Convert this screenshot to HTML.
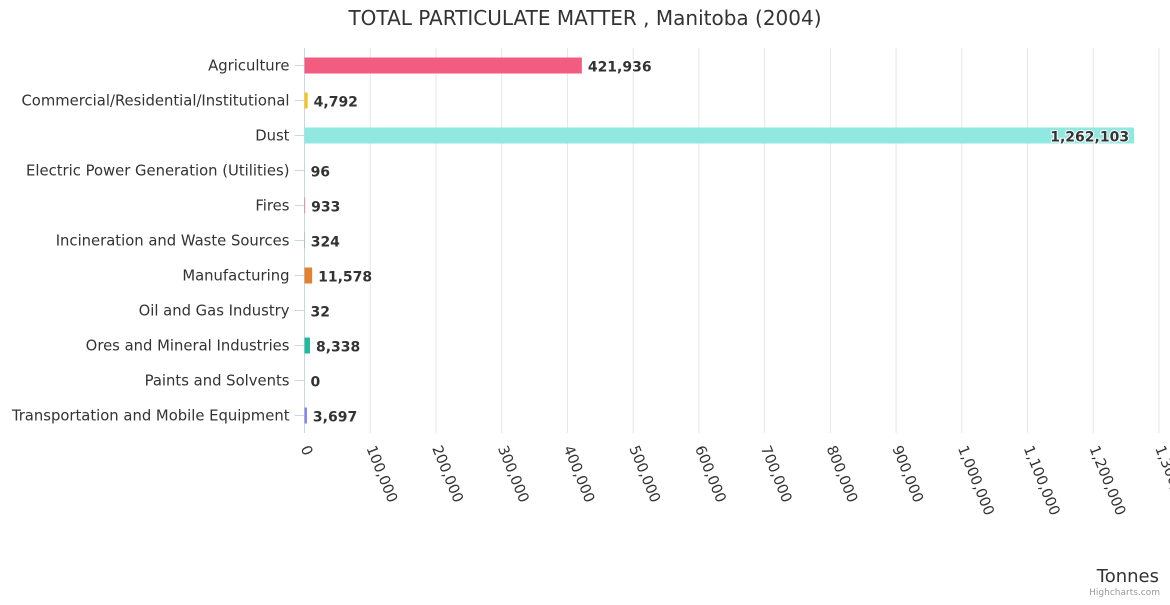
<!DOCTYPE html>
<html><head><meta charset="utf-8"><style>
body{margin:0;background:#fff;font-family:"Liberation Sans","DejaVu Sans",sans-serif;}
svg text{font-family:"DejaVu Sans","Liberation Sans",sans-serif;}
</style></head><body>
<svg id="c" width="1170" height="600">
<text x="585" y="25" text-anchor="middle" font-size="20" fill="#333">TOTAL PARTICULATE MATTER , Manitoba (2004)</text>
<g id="grid"></g><g id="bars"></g><g id="labels"></g><g id="xt"></g>
<text x="1159" y="582" text-anchor="end" font-size="18" fill="#333">Tonnes</text>
<text x="1160" y="595" text-anchor="end" font-size="9" fill="#999">Highcharts.com</text>
</svg>
<script>
const categories=["Agriculture","Commercial/Residential/Institutional","Dust","Electric Power Generation (Utilities)","Fires","Incineration and Waste Sources","Manufacturing","Oil and Gas Industry","Ores and Mineral Industries","Paints and Solvents","Transportation and Mobile Equipment"];
const values=[421936,4792,1262103,96,933,324,11578,32,8338,0,3697];
const colors=["#f15c80","#f7c11e","#90e8e0","#8085e9","#f45b5b","#2b908f","#e4812f","#434348","#24b8a0","#7cb5ec","#8085e9"];
const ticks=[0,100000,200000,300000,400000,500000,600000,700000,800000,900000,1000000,1100000,1200000,1300000];
const NS="http://www.w3.org/2000/svg";
const L=304.5,R=1159,T=48,B=433,MAX=1300000;
const x=v=>L+v/MAX*(R-L);
const band=(B-T)/categories.length;
const y=i=>T+band*(i+0.5);
function mk(t,a,p){const e=document.createElementNS(NS,t);for(const k in a)e.setAttribute(k,a[k]);document.getElementById(p).appendChild(e);return e;}
const fmt=v=>v.toLocaleString("en-US");
ticks.forEach((t,i)=>{
 if(i>0){const g=mk("line",{x1:x(t),x2:x(t),y1:T,y2:B,stroke:"#e6e6e6"},"grid");
 
 }
 const tx=mk("text",{x:x(t)-4,y:B+15,"font-size":14.5,fill:"#333",transform:`rotate(68 ${x(t)-4} ${B+15})`},"xt");
 tx.textContent=fmt(t);
 
 
});
const ax=mk("line",{x1:L,x2:L,y1:T,y2:B,stroke:"#ccd6eb"},"grid");


categories.forEach((c,i)=>{
 const tk=mk("line",{x1:L-10,x2:L,y1:y(i),y2:y(i),stroke:"#ccd6eb"},"grid");
 
 
 const lb=mk("text",{x:L-15,y:y(i)+5,"text-anchor":"end","font-size":14.8,fill:"#333"},"labels");
 lb.textContent=c;
 
 
 const w=x(values[i])-L;
 const b=mk("rect",{x:L,y:y(i)-8,width:Math.max(w,0),height:16,fill:colors[i]},"bars");
 
 
 const inside=w>700;
 const v=mk("text",{x:inside?x(values[i])-5:x(values[i])+6,y:y(i)+6,"text-anchor":inside?"end":"start","font-size":14,"font-weight":"bold",fill:"#333",stroke:"#fff","stroke-width":2,"paint-order":"stroke"},"labels");
 v.textContent=fmt(values[i]);
 
 
});
</script>
</body></html>
